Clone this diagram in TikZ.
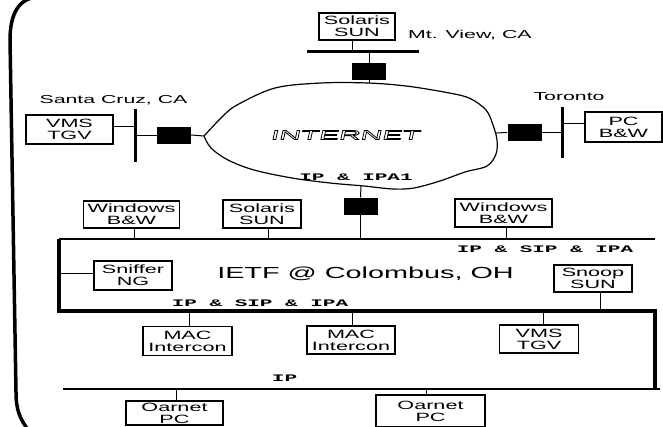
\documentclass[tikz,border=0pt]{standalone}
\usepackage{fontspec}
\setmainfont{Liberation Sans}
\newfontfamily\hostfont[FakeStretch=1.8]{Liberation Sans}
\newfontfamily\placefont[FakeStretch=1.85]{Liberation Sans}
\newfontfamily\netfont[FakeStretch=2.3,FakeSlant=0.22]{Liberation Sans}
\newfontfamily\protofont[FakeStretch=2.1]{Liberation Mono}
\tikzset{
  host/.style={draw, line width=1.3pt, inner sep=0pt, align=center,
    font=\hostfont\fontsize{12}{12}\selectfont},
  router/.style={fill=black, minimum width=34pt, minimum height=17pt, inner sep=0pt},
  place/.style={inner sep=0pt, font=\placefont\fontsize{11.5}{12}\selectfont},
  proto/.style={inner sep=0pt, font=\protofont\bfseries\fontsize{10}{10}\selectfont},
  link/.style={line width=1pt},
  bus/.style={line width=3pt},
}
\begin{document}
\begin{tikzpicture}[x=1pt,y=-1pt]
  \useasboundingbox (0,0) rectangle (663,426);
  \clip (0,0) rectangle (663,426);
  % outer frame
  \draw[line width=3.5pt] (80,-3) -- (40,-3) .. controls (18,-3) and (10,15) .. (10,40)
    -- (16,392) .. controls (16,410) and (20,420) .. (30,432);
  % Mt. View
  \node[host, minimum width=76pt, minimum height=27pt] (sunmv) at (357,26.5) {Solaris\\SUN};
  \node[place, anchor=west] (mv) at (408,35) {Mt. View, CA};
  \coordinate (mvL) at (307,51);
  \coordinate (mvR) at (419,51);
  \draw[bus] (mvL) -- (mvR);
  \node[router] (rmv) at (369,71.5) {};
  % internet cloud
  \draw[line width=1.2pt] plot[smooth, tension=0.55] coordinates {
    (204,136) (222,117) (237,105) (275,88) (321,83) (368,83) (406,86) (444,92)
    (469,98) (486,110) (493,125) (497,140) (496,154) (487,166) (465,172) (440,181)
    (414,188) (393,189) (364,186) (330,183) (292,178) (254,170) (228,160) (211,148) (204,136)};
  \coordinate (netW) at (204,136);
  \coordinate (netE) at (496,133);
  \coordinate (netN) at (369,83);
  \coordinate (netS) at (361,186);
  \node[inner sep=0pt] (inet) at (345,135)
    {\netfont\fontsize{13}{13}\selectfont\special{pdf:literal direct 1 Tr 0.8 w}INTERNET\special{pdf:literal direct 0 Tr}};
  \node[proto] (ipa1) at (356,177) {IP \& IPA1};
  % Santa Cruz
  \node[place] (sc) at (113.5,100) {Santa Cruz, CA};
  \node[host, minimum width=87pt, minimum height=29pt] (vmssc) at (69.5,129.5) {VMS\\TGV};
  \coordinate (scT) at (135,109);
  \coordinate (scB) at (135,162);
  \draw[bus] (scT) -- (scB);
  \node[router] (rsc) at (174,135) {};
  % Toronto
  \node[place] (tor) at (569,97) {Toronto};
  \node[host, minimum width=77pt, minimum height=30pt] (pctor) at (623.5,127) {PC\\B\&W};
  \coordinate (torT) at (562,107);
  \coordinate (torB) at (562,158);
  \draw[bus] (torT) -- (torB);
  \node[router] (rtor) at (524.5,132.5) {};
  % IETF network
  \node[router] (rietf) at (360.5,206) {};
  \coordinate (lanNW) at (59,239);
  \coordinate (lanNE) at (655,239);
  \coordinate (lanSW) at (59,311);
  \coordinate (lanSE) at (655,311);
  \coordinate (ipW) at (63,389);
  \coordinate (ipE) at (660,389);
  \coordinate (ipC) at (655,389);
  \draw[line width=2.2pt] (lanNW) -- (lanNE);
  \draw[line width=3.2pt] (lanNW) -- (lanSW) -- (lanSE) -- (ipC);
  \draw[line width=2.6pt] (ipW) -- (ipE);
  \node[host, minimum width=96pt, minimum height=27pt] (winl) at (131.5,214.5) {Windows\\B\&W};
  \node[host, minimum width=78pt, minimum height=28pt] (sunc) at (262,214) {Solaris\\SUN};
  \node[host, minimum width=97pt, minimum height=28pt] (winr) at (503.5,213) {Windows\\B\&W};
  \node[proto] (sipa1) at (545,249) {IP \& SIP \& IPA};
  \node[host, minimum width=78pt, minimum height=29pt] (sniff) at (133,275.5) {Sniffer\\NG};
  \node[inner sep=0pt, font=\hostfont\fontsize{16}{16}\selectfont] (ietf) at (365.5,274) {IETF @ Colombus, OH};
  \node[host, minimum width=78pt, minimum height=27pt] (snoop) at (593,278.5) {Snoop\\SUN};
  \node[proto] (sipa2) at (260,303) {IP \& SIP \& IPA};
  \node[host, minimum width=89pt, minimum height=29pt] (mac1) at (187.5,341) {MAC\\Intercon};
  \node[host, minimum width=88pt, minimum height=28pt] (mac2) at (351,340) {MAC\\Intercon};
  \node[host, minimum width=79pt, minimum height=28pt] (vmsc) at (539,339) {VMS\\TGV};
  \node[proto] (ip) at (284.5,378) {IP};
  \node[host, minimum width=97pt, minimum height=24pt] (oarl) at (174.5,413) {Oarnet\\PC};
  \node[host, minimum width=109pt, minimum height=32pt] (oarr) at (430.5,411) {Oarnet\\PC};
  % links
  \draw[link] ([xshift=-5pt]sunmv.south) -- ([xshift=-5pt]sunmv.south |- mvL);
  \draw[link] (rmv.north) -- (rmv.north |- mvL);
  \draw[link] (rmv.south) -- (netN);
  \draw[link] ([yshift=3.5pt]vmssc.east) -- ([yshift=3.5pt]vmssc.east -| scT);
  \draw[link] (rsc.west) -- (rsc.west -| scT);
  \draw[link] (rsc.east) -- (netW);
  \draw[link] (netE) -- (rtor.west);
  \draw[link] (rtor.east) -- (rtor.east -| torT);
  \draw[link] ([yshift=4pt]pctor.west) -- ([yshift=4pt]pctor.west -| torT);
  \draw[link] (netS) -- (rietf.north);
  \draw[link] (rietf.south) -- (rietf.south |- lanNW);
  \draw[link] ([xshift=2.5pt]winl.south) -- ([xshift=2.5pt]winl.south |- lanNW);
  \draw[link] ([xshift=6pt]sunc.south) -- ([xshift=6pt]sunc.south |- lanNW);
  \draw[link] ([xshift=2.5pt]winr.south) -- ([xshift=2.5pt]winr.south |- lanNW);
  \draw[link] ([yshift=2.5pt]sniff.west) -- ([yshift=2.5pt]sniff.west -| lanNW);
  \draw[link] ([xshift=7pt]snoop.south) -- ([xshift=7pt]snoop.south |- lanSW);
  \draw[link] ([xshift=1.5pt]mac1.north) -- ([xshift=1.5pt]mac1.north |- lanSW);
  \draw[link] ([xshift=1pt]mac2.north) -- ([xshift=1pt]mac2.north |- lanSW);
  \draw[link] ([xshift=4pt]vmsc.north) -- ([xshift=4pt]vmsc.north |- lanSW);
  \draw[link] ([xshift=1.5pt]oarl.north) -- ([xshift=1.5pt]oarl.north |- ipW);
  \draw[link] ([xshift=-4.5pt]oarr.north) -- ([xshift=-4.5pt]oarr.north |- ipW);
\end{tikzpicture}
\end{document}
